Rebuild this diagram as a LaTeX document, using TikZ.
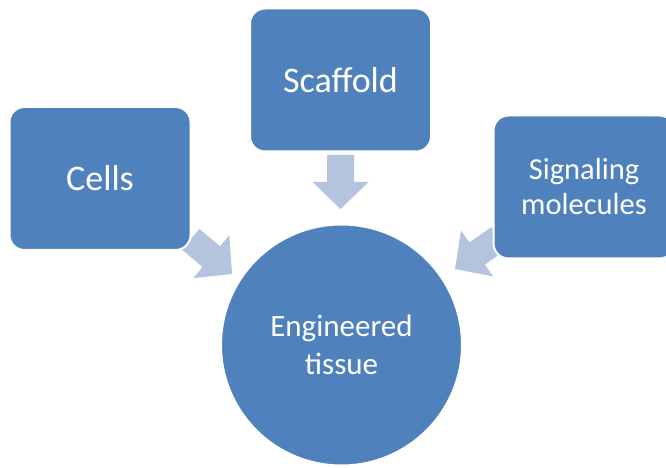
\documentclass[tikz,border=0pt]{standalone}
\usepackage{fontspec}
\setmainfont{Carlito}
\definecolor{boxblue}{RGB}{79,129,189}
\definecolor{arrowblue}{RGB}{180,196,223}
\tikzset{
  box/.style={fill=boxblue, draw=white, line width=2pt, rounded corners=15pt,
    minimum width=181pt, minimum height=143pt, inner sep=0pt, text=white, align=center},
  hub/.style={circle, fill=boxblue, draw=white, line width=2pt, minimum size=241pt,
    inner sep=0pt, text=white, align=center},
  bigtext/.style={font=\fontsize{36}{43}\selectfont},
  smalltext/.style={font=\fontsize{30.5}{35}\selectfont},
  arrowfill/.style={fill=arrowblue}
}
\newcommand{\blockarrowat}[2]{%
  \path[arrowfill, shift={(#1)}, rotate=#2]
    (0,0) -- (-27,28) -- (-27,13.5) -- (-54,13.5) -- (-54,-13.5) -- (-27,-13.5) -- (-27,-28) -- cycle;}
\begin{document}
\begin{tikzpicture}[x=1pt, y=1pt]
\useasboundingbox (0,0) rectangle (666,468);
\fill[white] (0,0) rectangle (666,468);
\coordinate (tiptop) at (340.5,259);
\coordinate (tipleft) at (232,194);
\coordinate (tipright) at (455,199);
\blockarrowat{tiptop}{-90}
\blockarrowat{tipleft}{-40}
\blockarrowat{tipright}{-145}
\node[box, bigtext] (cells) at (100,289.5) {Cells};
\node[box, bigtext] (scaffold) at (340.5,388) {Scaffold};
\node[box, smalltext] (signal) at (584,281) {Signaling\\molecules};
\node[hub, font=\fontsize{31}{38}\selectfont] (tissue) at (341.5,123) {Engineered\\tissue};
\end{tikzpicture}
\end{document}
